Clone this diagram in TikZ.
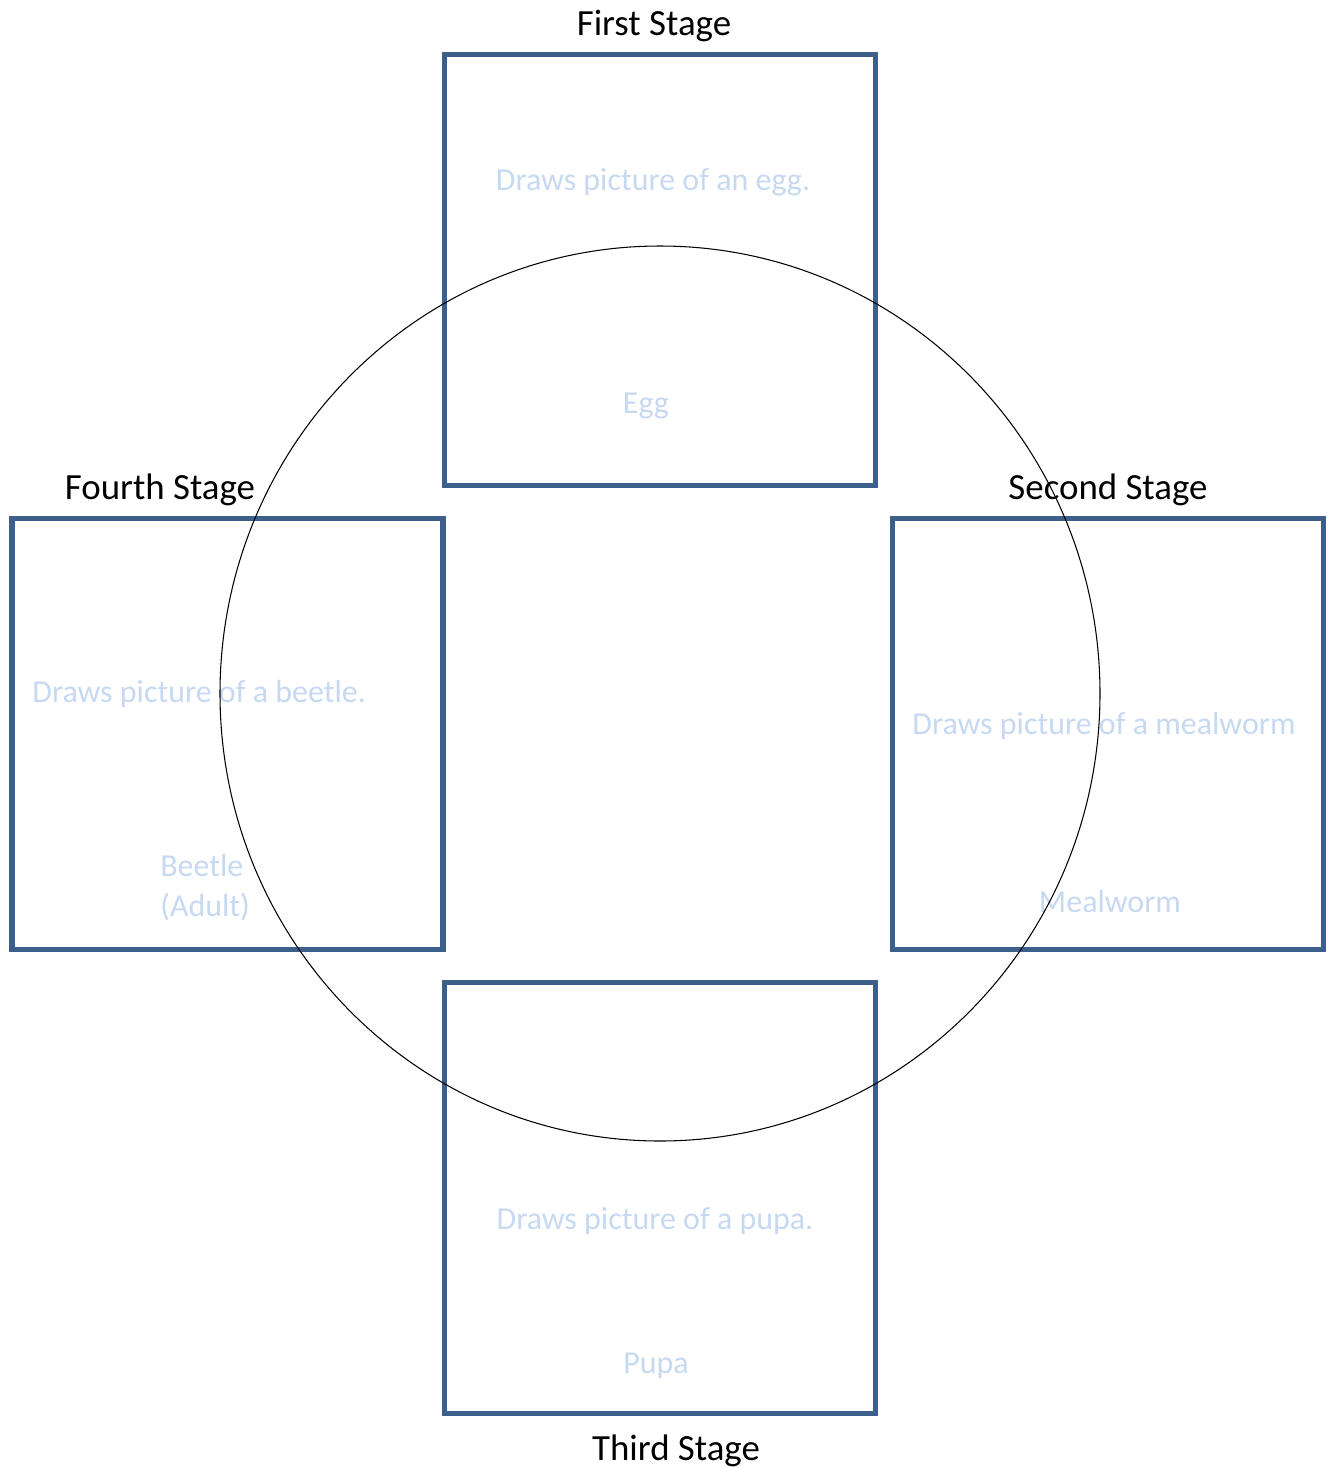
\documentclass[tikz,border=0pt]{standalone}
\usepackage{fontspec}
\setmainfont{Carlito}
\usepackage{tikz}
\definecolor{boxblue}{RGB}{60,95,140}
\definecolor{paleblue}{RGB}{198,217,241}
\tikzstyle{stagebox} = [rectangle, draw=boxblue, line width=3.1pt, minimum width=8.62cm, minimum height=8.62cm, inner sep=0pt]
\tikzstyle{stagename} = [font=\fontsize{21}{25}\selectfont, text=black, inner sep=0pt]
\tikzstyle{hint} = [font=\fontsize{18.2}{22.5}\selectfont, text=paleblue, inner sep=0pt]
\begin{document}
\begin{tikzpicture}[x=0.02cm,y=-0.02cm]
\useasboundingbox (0,0) rectangle (1330,1468);
% the four boxes
\node (first) [stagebox] at (660,270) {};
\node (second) [stagebox] at (1108,734) {};
\node (third) [stagebox] at (660,1198) {};
\node (fourth) [stagebox] at (227.5,734) {};
% stage names
\node (firstname) [stagename] at (654,26) {First Stage};
\node (secondname) [stagename] at (1108,490) {Second Stage};
\node (thirdname) [stagename] at (676,1451) {Third Stage};
\node (fourthname) [stagename] at (160,490) {Fourth Stage};
% pale texts inside the boxes
\node (egg) [hint] at (653,182) {Draws picture of an egg.};
\node (eggname) [hint] at (646,406) {Egg};
\node (worm) [hint] at (1104,726) {Draws picture of a mealworm};
\node (wormname) [hint] at (1110,902) {Mealworm};
\node (pupa) [hint] at (655,1221) {Draws picture of a pupa.};
\node (pupaname) [hint] at (656,1366) {Pupa};
\node (beetle) [hint, anchor=west] at (32,694) {Draws picture of a beetle.};
\node (beetlename) [hint, align=left, anchor=north west] at (160,854) {Beetle\\(Adult)};
% the cycle
\draw[line width=0.6pt] (660,693.5) ellipse [x radius=440, y radius=447.5];
\end{tikzpicture}
\end{document}
